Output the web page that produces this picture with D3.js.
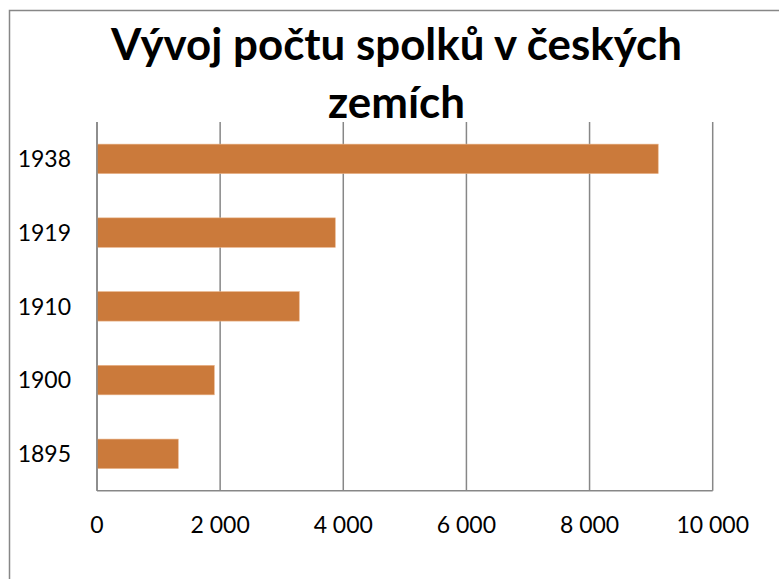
<!DOCTYPE html>
<html><head><meta charset="utf-8">
<script src="https://cdn.jsdelivr.net/npm/d3@7"></script>
<style>html,body{margin:0;padding:0;background:#fff;overflow:hidden}</style>
</head><body>
<svg id="c" width="779" height="579"></svg>
<script>
const categories = ["1938", "1919", "1910", "1900", "1895"];
const values = [9115, 3870, 3285, 1905, 1320];
const tickValues = [0, 2000, 4000, 6000, 8000, 10000];
const titleLines = ["Vývoj počtu spolků v českých", "zemích"];

(function () {
const svg = d3.select("#c");
const font = "Lato, 'Open Sans', sans-serif";
const grey = "#878787";

svg.append("rect").attr("x", 9.5).attr("y", 10.5).attr("width", 800).attr("height", 620)
  .attr("fill", "#fff").attr("stroke", grey).attr("stroke-width", 1.5);

const pl = 97, pr = 712.7, pt = 122, pb = 490.7;
const x = d3.scaleLinear().domain([0, 10000]).range([pl, pr]);
const y = d3.scaleBand().domain(categories).range([pt, pb]).paddingInner(0.6).paddingOuter(0.3);

// gridlines
svg.append("g").selectAll("line").data(tickValues).join("line")
  .attr("x1", d => x(d)).attr("x2", d => x(d)).attr("y1", pt).attr("y2", pb)
  .attr("stroke", grey).attr("stroke-width", 1.5);

// bars
svg.append("g").selectAll("rect").data(values).join("rect")
  .attr("x", x(0)).attr("y", (d, i) => y(categories[i]))
  .attr("width", d => x(d) - x(0)).attr("height", y.bandwidth())
  .attr("fill", "#cb7a3b").attr("stroke", "#e9b48a").attr("stroke-width", 0.6);

// axis lines
svg.append("line").attr("x1", pl).attr("x2", pr).attr("y1", pb).attr("y2", pb)
  .attr("stroke", grey).attr("stroke-width", 1.5);
svg.append("line").attr("x1", pl).attr("x2", pl).attr("y1", pt).attr("y2", pb)
  .attr("stroke", grey).attr("stroke-width", 1.5);

const fmt = d => d3.format(",")(d).replace(/,/g, "\u00a0");
svg.append("g").selectAll("text").data(tickValues).join("text")
  .attr("x", d => x(d)).attr("y", 533).attr("text-anchor", "middle")
  .attr("font-family", font).attr("font-size", 23).attr("fill", "#000")
  .text(fmt);

svg.append("g").selectAll("text").data(categories).join("text")
  .attr("x", 71).attr("y", d => y(d) + y.bandwidth() / 2 + 8.3).attr("text-anchor", "end")
  .attr("font-family", font).attr("font-size", 23).attr("fill", "#000")
  .text(d => d);

// title
const tw = [571, 137];
svg.append("g").selectAll("text").data(titleLines).join("text")
  .attr("x", 396.5).attr("y", (d, i) => 60 + i * 58).attr("text-anchor", "middle")
  .attr("font-family", font).attr("font-weight", "bold").attr("font-size", 43).attr("fill", "#000")
  .attr("textLength", (d, i) => tw[i]).attr("lengthAdjust", "spacingAndGlyphs")
  .text(d => d);
})();
</script>
</body></html>
